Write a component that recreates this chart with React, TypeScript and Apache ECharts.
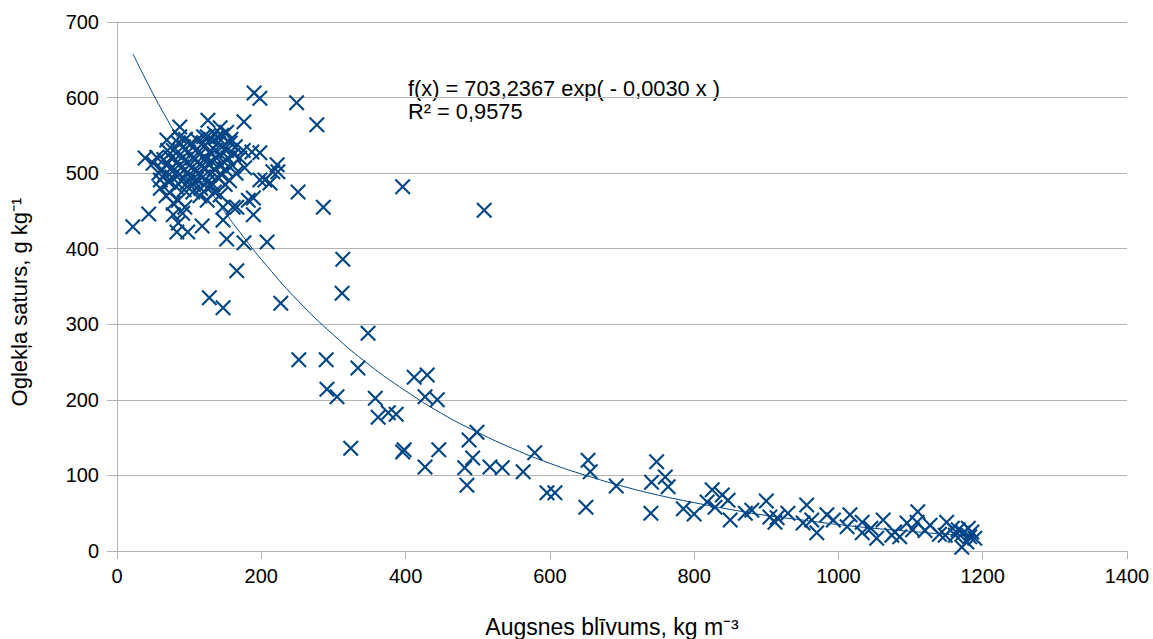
import React, { useEffect, useRef } from "react";
import * as echarts from "echarts";

const xTicks = { min: 0, max: 1400, interval: 200 };
const yTicks = { min: 0, max: 700, interval: 100 };

const xTitle = "Augsnes blīvums, kg m⁻³";
const yTitle = "Oglekļa saturs, g kg⁻¹";
const eqLine1 = "f(x) = 703,2367 exp( - 0,0030 x )";
const eqLine2 = "R² = 0,9575";

// dense cluster of low-density soils
const clusterPoints: number[][] = [
  [62, 505], [66, 498], [70, 512], [72, 488], [75, 520], [76, 495], [78, 530], [80, 505],
  [82, 482], [84, 515], [86, 498], [88, 525], [89, 490], [90, 508], [92, 535], [93, 478],
  [95, 518], [96, 500], [98, 488], [99, 528], [100, 510], [102, 495], [103, 540], [105, 520],
  [106, 485], [108, 505], [109, 530], [110, 492], [112, 515], [113, 500], [115, 525], [116, 480],
  [118, 510], [119, 495], [120, 535], [122, 505], [123, 520], [125, 488], [126, 512], [128, 528],
  [129, 498], [130, 545], [132, 515], [133, 485], [135, 505], [136, 530], [138, 520], [139, 495],
  [140, 540], [142, 510], [143, 525], [145, 498], [146, 535], [148, 515], [150, 505], [152, 530],
  [154, 520], [156, 490], [158, 545], [160, 510], [162, 525], [145, 550], [135, 552], [120, 548],
  [70, 530], [65, 518], [58, 500], [60, 480], [68, 470], [74, 505], [85, 540], [95, 545],
  [105, 475], [115, 470], [125, 480], [135, 475], [150, 485], [165, 500], [170, 520], [175, 530],
];

// scattered points around the cluster
const edgePoints: number[][] = [
  [190, 606], [198, 599], [249, 593], [277, 564], [126, 570], [176, 568], [87, 561], [143, 560],
  [152, 554], [69, 544], [87, 548], [111, 544], [119, 540], [125, 548], [139, 548], [157, 540],
  [164, 535], [39, 520], [55, 521], [50, 513], [187, 528], [198, 527], [177, 507], [198, 491],
  [216, 502], [212, 487], [189, 467], [166, 455], [147, 455], [125, 464], [85, 464], [73, 474],
  [60, 491], [22, 429], [44, 446], [78, 445], [85, 434], [83, 422], [98, 422], [118, 430],
  [91, 447], [94, 455], [78, 460], [147, 438], [152, 413], [176, 408], [208, 409], [166, 371],
  [128, 335], [147, 322], [189, 445], [182, 464], [161, 455], [143, 471], [222, 511], [223, 502],
  [205, 491], [251, 475], [286, 455], [396, 482], [509, 451],
];

// middle range
const midPoints: number[][] = [
  [313, 386], [312, 341], [227, 328], [348, 288], [252, 253], [290, 253], [334, 242], [291, 214],
  [305, 204], [358, 202], [362, 177], [376, 183], [387, 181], [412, 230], [430, 233], [427, 204],
  [444, 200], [324, 136], [398, 134], [396, 131], [446, 134], [427, 111], [488, 147], [499, 157],
  [493, 123], [482, 110], [517, 111], [534, 110], [563, 105], [579, 130], [485, 87], [596, 77],
  [607, 77], [653, 120], [656, 105], [650, 58], [692, 86], [748, 118], [741, 91], [760, 98],
  [764, 85], [740, 50], [785, 56], [800, 49],
];

// dense soils tail
const tailPoints: number[][] = [
  [825, 81], [818, 65], [839, 74], [847, 67], [829, 58], [850, 41], [871, 50], [880, 54],
  [900, 66], [905, 45], [912, 38], [915, 44], [930, 50], [956, 61], [951, 37], [963, 41],
  [970, 24], [984, 48], [993, 41], [1016, 48], [1012, 32], [1033, 38], [1033, 24], [1053, 17],
  [1062, 41], [1074, 21], [1085, 19], [1103, 28], [1095, 37], [1110, 52], [1109, 38], [1127, 34],
  [1150, 38], [1148, 21], [1162, 21], [1171, 5], [1173, 24], [1182, 19], [1189, 17], [1180, 30],
  [1166, 28], [1078, 25], [1045, 30], [1120, 27], [1140, 22], [1178, 12], [1185, 25], [1158, 30],
];

// exponential trend line
const trendX = [22, 50, 75, 100, 125, 150, 175, 200, 250, 300, 350, 400, 450, 500, 550, 600, 650, 700, 750, 800, 850, 900, 950, 1000, 1050, 1100, 1150, 1190];
const trendY = [658, 605, 562, 521, 483, 448, 416, 386, 332, 286, 246, 212, 182, 157, 135, 116, 100, 86, 74, 64, 55, 47, 41, 35, 30, 26, 22, 20];

const BLUE = "#004586";
const GRID = "#b3b3b3";
const FONT = "Liberation Sans";

const crossPath =
  "path://M0,1.5 L1.5,0 L8,6.5 L14.5,0 L16,1.5 L9.5,8 L16,14.5 L14.5,16 L8,9.5 L1.5,16 L0,14.5 L6.5,8 Z";

export default function App() {
  const ref = useRef<HTMLDivElement>(null);
  useEffect(() => {
    if (!ref.current) return;
    const chart = echarts.init(ref.current, null, { renderer: "svg" });
    const points = [...clusterPoints, ...edgePoints, ...midPoints, ...tailPoints];
    const trend = trendX.map((x, i) => [x, trendY[i]]);
    chart.setOption({
      animation: false,
      backgroundColor: "#ffffff",
      grid: { left: 117, right: 26, top: 22, bottom: 88, containLabel: false },
      xAxis: {
        type: "value",
        min: xTicks.min,
        max: xTicks.max,
        interval: xTicks.interval,
        axisLine: { show: true, lineStyle: { color: GRID, width: 1 } },
        axisTick: { show: true, length: 8, lineStyle: { color: GRID } },
        splitLine: { show: false },
        axisLabel: {
          color: "#000",
          fontFamily: FONT,
          fontSize: 20,
          margin: 15,
          formatter: (v: number) => String(v),
        },
      },
      yAxis: {
        type: "value",
        min: yTicks.min,
        max: yTicks.max,
        interval: yTicks.interval,
        axisLine: { show: true, lineStyle: { color: GRID, width: 1 } },
        axisTick: { show: true, length: 10, lineStyle: { color: GRID } },
        splitLine: { show: true, lineStyle: { color: GRID, width: 1 } },
        axisLabel: {
          color: "#000",
          fontFamily: FONT,
          fontSize: 20,
          margin: 18,
          formatter: (v: number) => String(v),
        },
      },
      series: [
        {
          type: "line",
          data: trend,
          smooth: true,
          symbol: "none",
          lineStyle: { color: BLUE, width: 1 },
          z: 1,
        },
        {
          type: "scatter",
          data: points,
          symbol: crossPath,
          symbolSize: 16,
          itemStyle: { color: BLUE, opacity: 1 },
          z: 2,
        },
      ],
      graphic: [
        {
          type: "text",
          x: 408,
          y: 88,
          style: { text: eqLine1, fill: "#000", font: `21.8px "${FONT}"`, verticalAlign: "middle" },
        },
        {
          type: "text",
          x: 408,
          y: 111,
          style: { text: eqLine2, fill: "#000", font: `21.8px "${FONT}"`, verticalAlign: "middle" },
        },
        {
          type: "text",
          x: 612,
          y: 627,
          style: {
            text: xTitle,
            fill: "#000",
            font: `23px "${FONT}"`,
            align: "center",
            verticalAlign: "middle",
          },
        },
        {
          type: "text",
          x: 19,
          y: 302,
          rotation: Math.PI / 2,
          style: {
            text: yTitle,
            fill: "#000",
            font: `22px "${FONT}"`,
            align: "center",
            verticalAlign: "middle",
          },
        },
      ],
    });
    return () => chart.dispose();
  }, []);
  return <div ref={ref} style={{ width: 1153, height: 639, position: "absolute", left: 0, top: 0 }} />;
}
